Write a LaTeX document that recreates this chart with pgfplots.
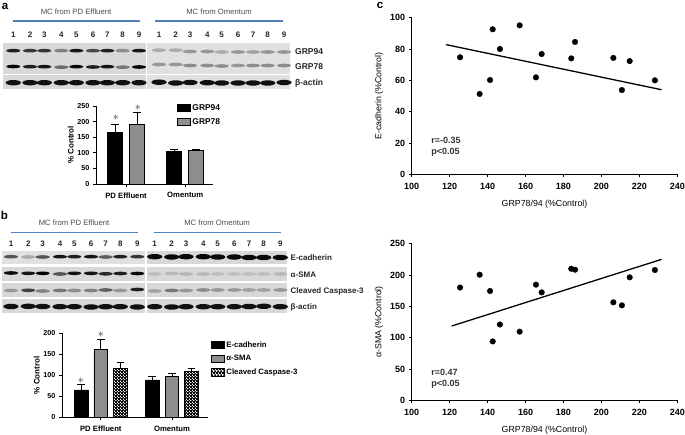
\documentclass[border=0pt]{standalone}
\usepackage{fontspec}
\setmainfont{Liberation Sans}
\usepackage{pgfplots}
\pgfplotsset{compat=1.18}
\usetikzlibrary{patterns}

\definecolor{bluebar}{HTML}{4F81BD}
\definecolor{graybar}{HTML}{8E8E8E}
\definecolor{blotbg}{HTML}{D8D8D8}
\definecolor{blotbgb}{HTML}{E0E0E0}

% checker fill of the caspase bars
\pgfdeclarepatternformonly{chk}{\pgfpointorigin}{\pgfqpoint{3.4pt}{3.4pt}}{\pgfqpoint{3.4pt}{3.4pt}}{
  \pgfpathrectangle{\pgfqpoint{0pt}{0pt}}{\pgfqpoint{2.3pt}{2.3pt}}
  \pgfpathrectangle{\pgfqpoint{1.7pt}{1.7pt}}{\pgfqpoint{2.3pt}{2.3pt}}
  \pgfusepath{fill}}

% blot bands
\pgfdeclareplotmark{band}{\pgfpathellipse{\pgfpointorigin}{\pgfqpoint{7pt}{0pt}}{\pgfqpoint{0pt}{1.8pt}}\pgfusepathqfill}
\pgfdeclareplotmark{bandb}{\pgfpathellipse{\pgfpointorigin}{\pgfqpoint{7.6pt}{0pt}}{\pgfqpoint{0pt}{2.7pt}}\pgfusepathqfill}

\tikzset{hdr/.style={font=\fontsize{7.7}{9}\selectfont, text=black!70},
  lane/.style={font=\fontsize{8}{9}\selectfont\bfseries, text=black!85},
  blotlab/.style={font=\fontsize{8}{9}\selectfont\bfseries, anchor=west, text=black!85, inner sep=0pt},
  plet/.style={font=\fontsize{11.5}{13}\selectfont\bfseries, inner sep=0pt},
  stat/.style={anchor=west, font=\fontsize{9}{10}\selectfont\bfseries, text=black!80, inner sep=0pt},
  star/.style={font=\large, text=black!80}}

\pgfplotsset{
  colormap={blot}{color(0)=(blotbg) color(1)=(black)},
  blotmarks/.style={only marks, scatter, mark=band, point meta=explicit, point meta min=0, point meta max=1, scatter/use mapped color={draw=mapped color, fill=mapped color}},
  baraxis/.style={
    scale only axis, axis lines=left, axis line style={-, line width=.8pt},
    tick style={black, line width=.8pt}, tick align=outside, major tick length=3pt,
    ybar, ymin=0, xtick={0,1}, xtick pos=bottom, ytick pos=left,
    yticklabel style={font=\fontsize{7.2}{8}\selectfont\bfseries},
    xticklabel style={font=\fontsize{7.7}{8}\selectfont\bfseries, yshift=-2pt},
    /pgf/number format/assume math mode=true,
    ylabel style={font=\fontsize{8}{9}\selectfont\bfseries, yshift=-3pt},
    legend cell align=left,
    clip=false,
  },
  mybar/.style={draw=black, line width=.8pt,
    legend image code/.code={\draw[##1,draw=black,line width=.8pt] (0pt,-3.6pt) rectangle (12.5pt,3.6pt);},
    error bars/y dir=plus, error bars/y explicit,
    error bars/error bar style={draw=black, line width=.8pt},
    error bars/error mark options={draw=black, rotate=90, mark size=3.8pt}},
  scataxis/.style={
    scale only axis, width=265.6pt, height=156.6pt,
    axis lines=left, axis line style={-, line width=.8pt},
    tick style={black, line width=.8pt}, tick align=outside, major tick length=3pt,
    xmin=100, xmax=240, xtick={100,120,...,240}, xtick pos=bottom, ytick pos=left,
    tick label style={font=\fontsize{9}{10}\selectfont\bfseries},
    xticklabel style={yshift=-2pt},
    /pgf/number format/assume math mode=true,
    xlabel={GRP78/94 (\%Control)},
    xlabel style={font=\fontsize{8.8}{10}\selectfont, yshift=-4pt},
    ylabel style={font=\fontsize{8.8}{10}\selectfont},
  },
  dots/.style={only marks, mark=*, mark size=2.8pt, black},
  fitline/.style={black, line width=1.3pt, no marks},
}

\begin{document}
\begin{tikzpicture}
\path[use as bounding box] (0pt,0pt) rectangle (685pt,435pt);

% western blots, in pixel coordinates of the figure
\begin{axis}[at={(0pt,0pt)}, anchor=south west, scale only axis, width=685pt, height=435pt,
  xmin=0, xmax=685, ymin=0, ymax=435, y dir=reverse, hide axis, clip=false]
\fill[blotbg] (3.3,42.7) rectangle (146.2,74);
\fill[blotbg] (3.3,75.3) rectangle (146.2,89.3);
\fill[blotbgb] (147.2,42.7) rectangle (290,74);
\fill[blotbgb] (147.2,75.3) rectangle (290,89.3);
\fill[blotbgb] (1.7,250.7) rectangle (145,264);
\fill[blotbg] (147.3,250.7) rectangle (287.3,264);
\fill[blotbg] (1.7,267) rectangle (145,281);
\fill[blotbg] (147.3,267) rectangle (287.3,281);
\fill[blotbg] (1.7,283) rectangle (145,297.3);
\fill[blotbg] (147.3,283) rectangle (287.3,297.3);
\fill[blotbg] (1.7,299.3) rectangle (145,313.3);
\fill[blotbg] (147.3,299.3) rectangle (287.3,313.3);

% panel a bands
\addplot[blotmarks] coordinates {
(13.3,50.7)[.85] (30,50.7)[.75] (44.3,50.7)[.75] (61.3,50.7)[.4] (76.3,50.7)[.9] (93,50.7)[.65] (107.3,50.7)[.85] (122.7,50.7)[.35] (139,50.7)[.9]
(159,50.2)[.2] (175.7,50.2)[.2] (190,51.5)[.3] (207.3,51.5)[.3] (221.7,52)[.2] (238,52)[.3] (253,52)[.25] (267.7,52)[.3] (284,52)[.3]
(13.3,66.5)[.95] (30,66.7)[.85] (44.3,66.7)[.9] (61.3,67.2)[.5] (76.3,66.7)[.95] (93,67)[.85] (107.3,66.7)[.9] (122.7,67.2)[.45] (139,67)[.98]
(159,64.5)[.3] (175.7,64.5)[.3] (190,65.5)[.35] (207.3,65.5)[.35] (221.7,66)[.35] (238,65.5)[.3] (253,65.5)[.35] (267.7,65.5)[.35] (284,65.5)[.35]
};
% panel b bands
\addplot[blotmarks] coordinates {
(11,256.7)[.6] (28.3,257)[.2] (42.7,257)[.6] (60,256.7)[.9] (74.3,256.7)[.85] (91,256.7)[.9] (105.7,257)[.55] (120.3,256.7)[.85] (137.3,256.7)[.75]
(11,273)[.95] (28.3,273.3)[.9] (42.7,273.3)[.98] (60,274)[.6] (74.3,273.3)[.9] (91,273.3)[.9] (105.7,273.8)[.8] (120.3,273.5)[.85] (137.3,273.5)[.95]
(154.7,274)[.12] (171.7,273.5)[.15] (186,274)[.15] (203.3,274)[.15] (217.7,274)[.12] (234.3,274)[.12] (249,274)[.12] (263.7,274)[.12] (280.3,274)[.15]
(11,290.5)[.3] (28.3,290.3)[.7] (42.7,291)[.4] (60,290.5)[.45] (74.3,290.5)[.35] (91,290.5)[.4] (105.7,290)[.55] (120.3,290.5)[.3] (137.3,289.5)[.85]
(154.7,291)[.25] (171.7,290.5)[.45] (186,290.5)[.3] (203.3,290)[.35] (217.7,290)[.3] (234.3,290)[.3] (249,290)[.25] (263.7,290)[.25] (280.3,290)[.3]
};
% thick bands: actin rows and E-cadherin in omentum
\addplot[blotmarks, mark=bandb] coordinates {
(13.3,82.7)[.92] (30,82.7)[.92] (44.3,82.7)[.92] (61.3,82.7)[.92] (76.3,82.7)[.92] (93,82.7)[.92] (107.3,82.7)[.92] (122.7,82.7)[.92] (139,82.7)[.92]
(159,82.2)[.92] (175.7,83)[.92] (190,82.5)[.92] (207.3,82.7)[.92] (221.7,83)[.92] (238,83)[.92] (253,83)[.92] (267.7,83)[.92] (284,82.5)[.92]
(11,306.5)[.92] (28.3,306.3)[.92] (42.7,306.5)[.92] (60,306.7)[.92] (74.3,306.7)[.92] (91,307)[.92] (105.7,306.7)[.92] (120.3,306.7)[.92] (137.3,307)[.92]
(154.7,306.7)[.92] (171.7,307)[.92] (186,306.7)[.92] (203.3,306.7)[.92] (217.7,306.7)[.92] (234.3,306.7)[.92] (249,306.5)[.92] (263.7,306.3)[.92] (280.3,306.7)[.92]
(154.7,256.7)[.95] (171.7,257)[.95] (186,256.7)[.95] (203.3,256.7)[.95] (217.7,257)[.95] (234.3,257)[.95] (249,257.5)[.95] (263.7,257.5)[.95] (280.3,257.5)[.95]
};

\draw[bluebar, line width=1.7pt] (12.7,21.3) -- (140,21.3);
\draw[bluebar, line width=1.7pt] (155.3,21.3) -- (282.7,21.3);
\draw[bluebar, line width=1.7pt] (11,232.5) -- (138,232.5);
\draw[bluebar, line width=1.7pt] (153.5,232.5) -- (280.5,232.5);

\node[plet] at (5,6.5) {a};
\node[plet] at (4.5,215.5) {b};
\node[plet] at (380,5.5) {c};
\node[hdr] at (76,12) {MC from PD Effluent};
\node[hdr] at (219,12) {MC from Omentum};
\node[hdr] at (74,223) {MC from PD Effluent};
\node[hdr] at (217,223) {MC from Omentum};
\node[blotlab, font=\fontsize{8.5}{9}\selectfont\bfseries] at (295,52) {GRP94};
\node[blotlab, font=\fontsize{8.5}{9}\selectfont\bfseries] at (295,66.7) {GRP78};
\node[blotlab, font=\fontsize{8.5}{9}\selectfont\bfseries] at (295,83.3) {β-actin};
\node[blotlab] at (290.5,258) {E-cadherin};
\node[blotlab] at (290.5,274.5) {α-SMA};
\node[blotlab] at (290.5,291) {Cleaved Caspase-3};
\node[blotlab] at (290.5,307.5) {β-actin};
\end{axis}

% lane numbers
\foreach \n/\x in {1/13.3,2/30,3/44.3,4/61.3,5/76.3,6/93,7/107.3,8/122.7,9/139,1/159,2/175.7,3/190,4/207.3,5/221.7,6/238,7/253,8/267.7,9/284}
  \node[lane] at (\x pt,400pt) {\n};
\foreach \n/\x in {1/11,2/28.3,3/42.7,4/60,5/74.3,6/91,7/105.7,8/120.3,9/137.3,1/154.7,2/171.7,3/186,4/203.3,5/217.7,6/234.3,7/249,8/263.7,9/280.3}
  \node[lane] at (\x pt,191.3pt) {\n};

% a: bars
\begin{axis}[baraxis, at={(96pt,251pt)}, anchor=south west, width=117pt, height=78pt,
  ybar=7pt, bar width=15pt, xmin=-0.508, xmax=1.47, ymax=250, ytick={0,50,...,250},
  xticklabels={PD Effluent,Omentum}, ylabel={\% Control},
  legend style={at={(0.692,1.05)}, anchor=north west, draw=none, fill=none, inner sep=0pt, row sep=2.5pt,
    font=\fontsize{8.4}{9}\selectfont\bfseries},
  legend columns=1]
\addplot[mybar, fill=black] coordinates {(0,165) +- (0,27) (1,105) +- (0,7)};
\addplot[mybar, fill=graybar] coordinates {(0,191) +- (0,39) (1,107) +- (0,5)};
\legend{GRP94,GRP78}
\node[star] at (axis cs:-0.17,214) {$\ast$};
\node[star] at (axis cs:0.2,246) {$\ast$};
\end{axis}

% b: bars
\begin{axis}[baraxis, at={(62pt,17.7pt)}, anchor=south west, width=146pt, height=84pt,
  ybar=6pt, bar width=13.7pt, xmin=-0.545, xmax=1.506, ymax=200, ytick={0,50,...,200},
  xticklabels={PD Effluent,Omentum}, ylabel={\% Control},
  legend style={at={(1.02,0.93)}, anchor=north west, draw=none, fill=none, inner sep=0pt, row sep=2.7pt,
    font=\fontsize{7.8}{8}\selectfont\bfseries},
  legend columns=1]
\addplot[mybar, fill=black] coordinates {(0,65) +- (0,14) (1,89) +- (0,9)};
\addplot[mybar, fill=graybar] coordinates {(0,161) +- (0,24) (1,98) +- (0,7)};
\addplot[mybar, pattern=chk] coordinates {(0,117) +- (0,14) (1,110) +- (0,8)};
\legend{E-cadherin,α-SMA,Cleaved Caspase-3}
\node[star] at (axis cs:-0.28,88) {$\ast$};
\node[star] at (axis cs:0,197) {$\ast$};
\end{axis}

% c: E-cadherin scatter
\begin{axis}[scataxis, at={(411.7pt,260.7pt)}, anchor=south west,
  ymin=0, ymax=100, ytick={0,20,...,100}, ylabel={E-cadherin (\%Control)}]
\addplot[dots] coordinates {(125.5,74.7) (135.8,51.3) (141.3,60.2) (142.7,92.6) (146.5,80) (156.9,95.1) (165.5,61.9) (168.5,76.8) (184.1,74) (186.1,84.5) (206.3,74.3) (210.8,53.8) (214.9,72.3) (228.2,60)};
\addplot[fitline] coordinates {(118.1,82.8) (231.7,54)};
\node[stat] at (axis cs:110.3,21.5) {r=-0.35};
\node[stat] at (axis cs:110.3,14) {p<0.05};
\end{axis}

% d: alpha-SMA scatter
\begin{axis}[scataxis, at={(411.7pt,34.7pt)}, anchor=south west,
  ymin=0, ymax=250, ytick={0,50,...,250}, ylabel={α-SMA (\%Control)}]
\addplot[dots] coordinates {(125.5,180) (135.8,200.5) (141.3,174.5) (142.7,94) (146.5,121) (156.9,109.6) (165.5,184.6) (168.5,172.3) (184.1,210) (186.1,208.5) (206.3,156.4) (210.8,151.6) (214.9,196.3) (228.2,208)};
\addplot[fitline] coordinates {(121.1,118.6) (231.7,225)};
\node[stat] at (axis cs:110.3,45) {r=0.47};
\node[stat] at (axis cs:110.3,26) {p<0.05};
\end{axis}
\end{tikzpicture}
\end{document}
